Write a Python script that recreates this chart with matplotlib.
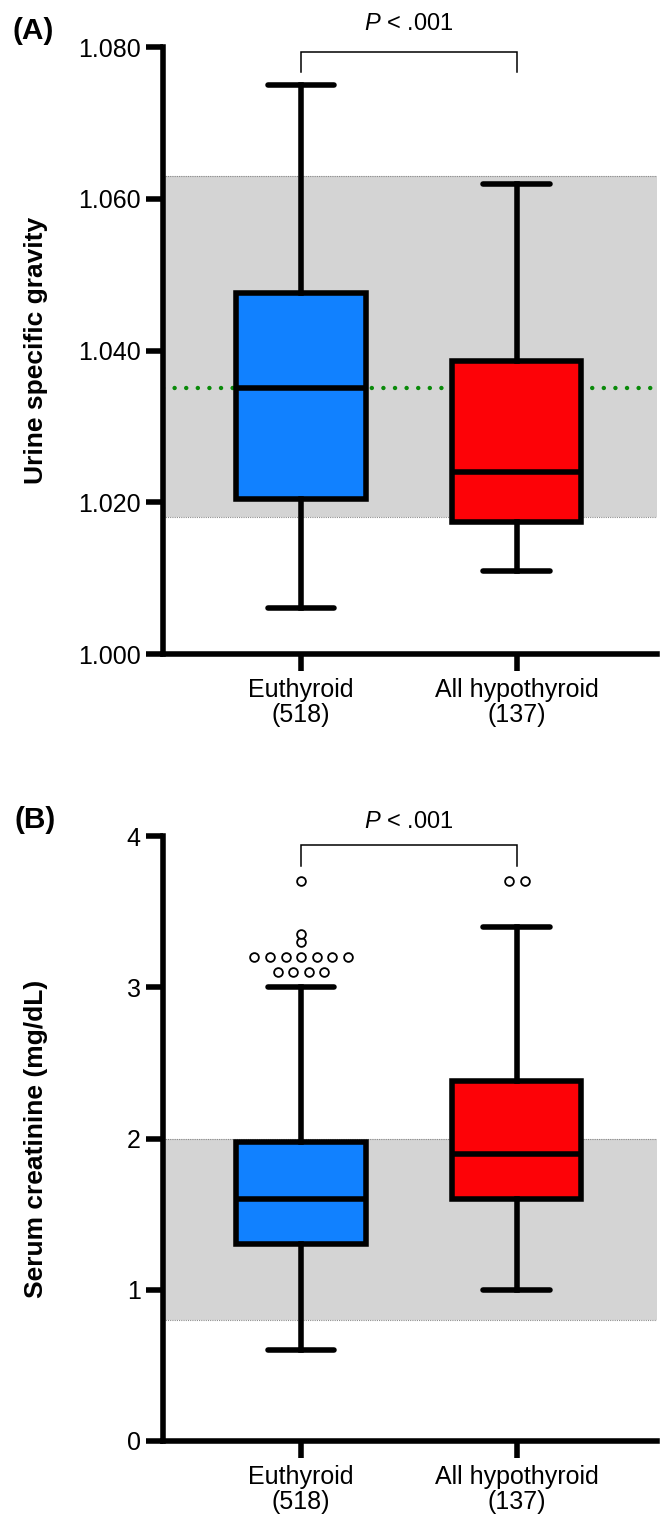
import numpy as np
import matplotlib
matplotlib.use("Agg")
import matplotlib.pyplot as plt

plt.rcParams["font.family"] = ["Liberation Sans", "DejaVu Sans"]
plt.rcParams["mathtext.fontset"] = "custom"
plt.rcParams["mathtext.it"] = "Liberation Sans:italic"
plt.rcParams["mathtext.rm"] = "Liberation Sans"

# ---------------- data ----------------
groups = ["Euthyroid\n(518)", "All hypothyroid\n(137)"]
box_colors = ["#1181FF", "#FD0207"]

# Panel A: urine specific gravity
usg_lo = [1.006, 1.011]
usg_q1 = [1.0204, 1.0174]
usg_med = [1.035, 1.024]
usg_q3 = [1.0476, 1.0386]
usg_hi = [1.075, 1.062]
usg_ref_range = [1.018, 1.063]
usg_ref_line = 1.035
usg_ticks = [1.000, 1.020, 1.040, 1.060, 1.080]

# Panel B: serum creatinine
cre_lo = [0.6, 1.0]
cre_q1 = [1.3, 1.6]
cre_med = [1.6, 1.9]
cre_q3 = [1.98, 2.38]
cre_hi = [3.0, 3.4]
cre_out_euthyroid = [3.1, 3.1, 3.1, 3.1, 3.2, 3.2, 3.2, 3.2, 3.2, 3.2, 3.2, 3.3, 3.35, 3.7]
cre_out_hypothyroid = [3.7, 3.7]
cre_ref_range = [0.8, 2.0]
cre_ticks = [0, 1, 2, 3, 4]

p_text = r"$P$ < .001"

# ---------------- style ----------------
W, H = 661, 1517
DPI = 100
LW = 4.0
TICK_FS = 18
LABEL_FS = 19
PANEL_FS = 21.5
XLIM = (-0.64, 1.65)
BOX_W = 0.60
CAP_W = 0.31
SWARM_STEP = 0.072


def swarm_positions(center, values, step):
    vals = np.asarray(values, dtype=float)
    xs = np.empty_like(vals)
    for v in np.unique(vals):
        idx = np.where(vals == v)[0]
        n = len(idx)
        xs[idx] = center + (np.arange(n) - (n - 1) / 2.0) * step
    return xs, vals


def style_axes(ax, ticks, fmt, ylabel):
    ax.set_xlim(*XLIM)
    ax.set_ylim(ticks[0], ticks[-1])
    ax.set_yticks(ticks)
    ax.set_yticklabels([fmt.format(t) for t in ticks])
    ax.set_xticks([0, 1])
    ax.set_xticklabels(groups, linespacing=1.05)
    for s in ["top", "right"]:
        ax.spines[s].set_visible(False)
    for s in ["left", "bottom"]:
        ax.spines[s].set_linewidth(LW)
        ax.spines[s].set_capstyle("projecting")
    ax.tick_params(axis="both", width=LW, length=12, labelsize=TICK_FS,
                   direction="out", color="black")
    ax.tick_params(axis="y", pad=4)
    ax.tick_params(axis="x", pad=5)
    ax.set_ylabel(ylabel, fontsize=LABEL_FS, fontweight="bold")
    ax.yaxis.set_label_coords(-0.233, 0.5)


def draw_boxes(ax, lo, q1, med, q3, hi):
    stats = []
    for i in range(len(groups)):
        stats.append(dict(whislo=lo[i], q1=q1[i], med=med[i], q3=q3[i],
                          whishi=hi[i], fliers=[], label=str(i)))
    res = ax.bxp(stats, positions=[0, 1], widths=BOX_W, capwidths=CAP_W,
                 patch_artist=True, showfliers=False, manage_ticks=False,
                 boxprops=dict(linewidth=LW, edgecolor="black", joinstyle="miter"),
                 whiskerprops=dict(linewidth=LW, color="black"),
                 capprops=dict(linewidth=LW, color="black", solid_capstyle="round"),
                 medianprops=dict(linewidth=LW, color="black", solid_capstyle="butt"),
                 zorder=3)
    for patch, c in zip(res["boxes"], box_colors):
        patch.set_facecolor(c)
    return res


def ref_band(ax, lo, hi):
    ax.axhspan(lo, hi, facecolor="#D4D4D4", edgecolor="none", zorder=0)
    for y in (lo, hi):
        ax.axhline(y, color="#8a8a8a", lw=0.8, ls=(0, (1, 1)), zorder=0.5)


def bracket(ax, y_top, y_leg, y_text):
    ax.plot([0, 0, 1, 1], [y_leg, y_top, y_top, y_leg], color="black",
            lw=1.1, clip_on=False, solid_joinstyle="miter", zorder=5)
    ax.text(0.5, y_text, p_text, ha="center", va="center", fontsize=17,
            clip_on=False)


fig = plt.figure(figsize=(W / DPI, H / DPI), dpi=DPI)

left = 163 / W
width = (657 - 163) / W

# ---------- Panel A ----------
axA = fig.add_axes([left, 1 - 654 / H, width, (654 - 47) / H])
ref_band(axA, *usg_ref_range)
axA.axhline(usg_ref_line, color="#0A8A0A", lw=3.2, ls=(0, (0.01, 2.6)),
            dash_capstyle="round", zorder=1)
draw_boxes(axA, usg_lo, usg_q1, usg_med, usg_q3, usg_hi)
style_axes(axA, usg_ticks, "{:.3f}", "Urine specific gravity")
bracket(axA, 1.0794, 1.0767, 1.0830)
fig.text(13 / W, 1 - 31 / H, "(A)", fontsize=PANEL_FS, fontweight="bold",
         ha="left", va="center")

# ---------- Panel B ----------
axB = fig.add_axes([left, 1 - 1441 / H, width, (1441 - 836) / H])
ref_band(axB, *cre_ref_range)
draw_boxes(axB, cre_lo, cre_q1, cre_med, cre_q3, cre_hi)
for pos, vals in ((0, cre_out_euthyroid), (1, cre_out_hypothyroid)):
    xs, ys = swarm_positions(pos, vals, SWARM_STEP)
    axB.plot(xs, ys, ls="none", marker="o", ms=6.3, mfc="white", mec="black",
             mew=1.3, zorder=4, clip_on=False)
style_axes(axB, cre_ticks, "{:d}", "Serum creatinine (mg/dL)")
bracket(axB, 3.94, 3.80, 4.09)
fig.text(15 / W, 1 - 820 / H, "(B)", fontsize=PANEL_FS, fontweight="bold",
         ha="left", va="center")

fig.savefig("out.png", dpi=DPI)
